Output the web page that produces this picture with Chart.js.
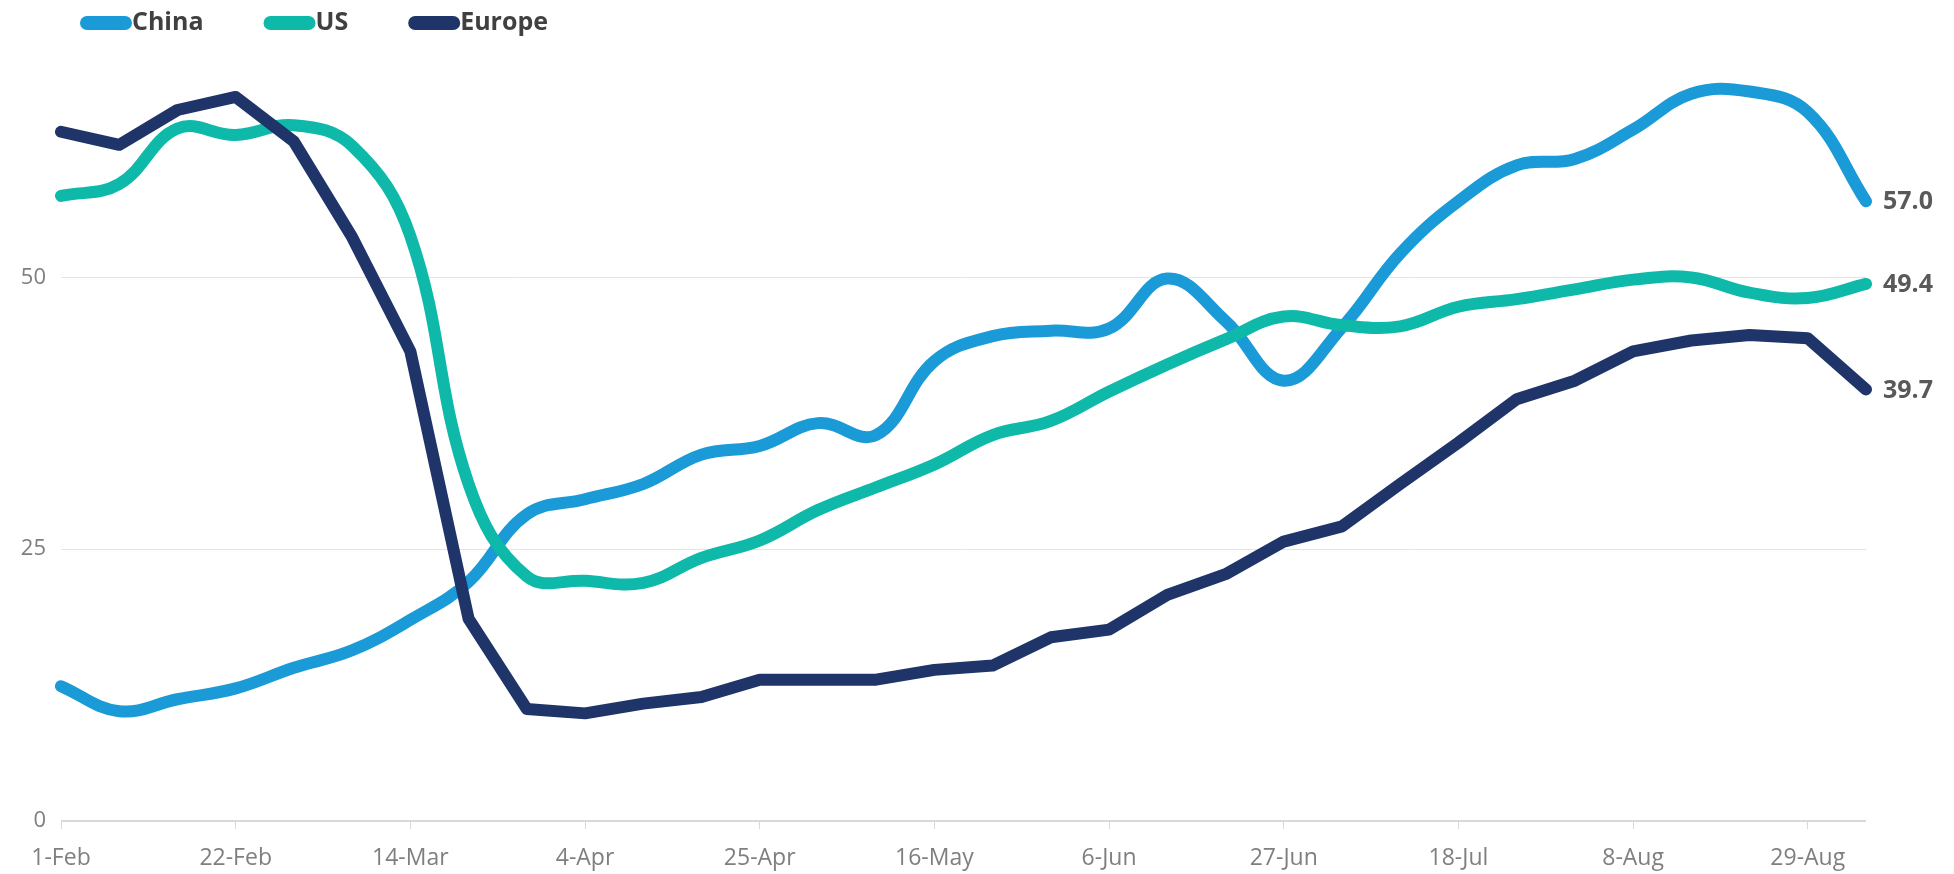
<!DOCTYPE html>
<html>
<head>
<meta charset="utf-8">
<script src="https://cdn.jsdelivr.net/npm/chart.js@4"></script>
<style>
  html, body { margin: 0; padding: 0; background: #fff; }
  #wrap { width: 1954px; height: 874px; position: relative; }
</style>
</head>
<body>
<div id="wrap"><canvas id="chart"></canvas></div>
<script>
// weekly readings, 1-Feb to 5-Sep
const weeks = ['1-Feb', '8-Feb', '15-Feb', '22-Feb', '29-Feb', '7-Mar', '14-Mar', '21-Mar', '28-Mar',
    '4-Apr', '11-Apr', '18-Apr', '25-Apr', '2-May', '9-May', '16-May', '23-May', '30-May',
    '6-Jun', '13-Jun', '20-Jun', '27-Jun', '4-Jul', '11-Jul', '18-Jul', '25-Jul', '1-Aug',
    '8-Aug', '15-Aug', '22-Aug', '29-Aug', '5-Sep'];

const china = [12.4, 10.1, 11.2, 12.2, 14.1, 15.7, 18.5, 22.0, 28.2, 29.6, 31.0, 33.7, 34.5, 36.6, 35.5, 42.3,
    44.6, 45.1, 45.3, 49.9, 46.0, 40.5, 45.4, 52.2, 57.0, 60.3, 60.9, 63.6, 66.9, 67.1, 65.2, 57.0];
const us = [57.5, 58.6, 63.7, 63.1, 64.0, 62.1, 53.8, 31.0, 22.5, 22.1, 21.9, 24.2, 25.8, 28.6, 30.7, 32.8,
    35.5, 36.8, 39.5, 42.0, 44.3, 46.4, 45.6, 45.5, 47.3, 48.0, 48.9, 49.8, 50.0, 48.6, 48.1, 49.4];
const europe = [63.4, 62.2, 65.4, 66.6, 62.5, 53.7, 43.2, 18.6, 10.3, 9.9, 10.8, 11.4, 13.0, 13.0, 13.0, 13.9,
    14.3, 16.9, 17.6, 20.8, 22.7, 25.7, 27.1, 31.0, 34.8, 38.8, 40.5, 43.2, 44.2, 44.7, 44.4, 39.7];

const yTicks = [0, 25, 50];

const colors = {
    China: '#1a9bd7',
    US: '#0fb9a9',
    Europe: '#1f3569'
};

function series(name, values, tension, order) {
    return {
        label: name,
        data: values,
        borderColor: colors[name],
        backgroundColor: colors[name],
        borderWidth: 12,
        borderCapStyle: 'round',
        borderJoinStyle: 'round',
        pointRadius: 0,
        tension: tension,
        order: order
    };
}

// legend drawn by hand: pill swatch then bold name
const legendPlugin = {
    id: 'pillLegend',
    afterDraw(chart) {
        const ctx = chart.ctx;
        let x = 80;
        const y = 23;
        ctx.save();
        ctx.font = 'bold 25px "Open Sans"';
        ctx.textBaseline = 'middle';
        chart.data.datasets.forEach(ds => {
            ctx.fillStyle = ds.borderColor;
            ctx.beginPath();
            ctx.roundRect(x, y - 7, 52, 14, 7);
            ctx.fill();
            ctx.fillStyle = '#404040';
            ctx.fillText(ds.label, x + 52, y);
            x += 52 + ctx.measureText(ds.label).width + 60;
        });
        ctx.restore();
    }
};

// value at the last point of each line
const endLabels = {
    id: 'endLabels',
    afterDatasetsDraw(chart) {
        const ctx = chart.ctx;
        ctx.save();
        ctx.font = 'bold 25px "Open Sans"';
        ctx.fillStyle = '#595959';
        ctx.textBaseline = 'middle';
        chart.data.datasets.forEach((ds, i) => {
            const pts = chart.getDatasetMeta(i).data;
            const last = pts[pts.length - 1];
            ctx.fillText(ds.data[ds.data.length - 1].toFixed(1), last.x + 17, last.y + 1);
        });
        ctx.restore();
    }
};

new Chart(document.getElementById('chart'), {
    type: 'line',
    data: {
        labels: weeks,
        datasets: [
            series('China', china, 0.4, 3),
            series('US', us, 0.4, 2),
            series('Europe', europe, 0, 1)
        ]
    },
    options: {
        responsive: true,
        maintainAspectRatio: false,
        animation: false,
        layout: { padding: { left: 10, right: 88, top: 60, bottom: 0 } },
        plugins: {
            legend: { display: false },
            tooltip: { enabled: false }
        },
        scales: {
            x: {
                border: { display: false },
                afterFit: axis => { axis.height = 53; },
                grid: {
                    drawOnChartArea: false,
                    drawTicks: true,
                    tickLength: 8,
                    color: c => (c.index % 3 === 0 ? '#d9d9d9' : 'rgba(0,0,0,0)')
                },
                ticks: {
                    autoSkip: false,
                    maxRotation: 0,
                    minRotation: 0,
                    padding: 16,
                    color: '#7f7f7f',
                    font: { family: '"Open Sans"', size: 23 },
                    callback: (v, i) => (i % 3 === 0 ? weeks[i] : '')
                }
            },
            y: {
                min: 0,
                max: 70,
                border: { display: false },
                afterBuildTicks: axis => { axis.ticks = yTicks.map(v => ({ value: v })); },
                afterFit: axis => { axis.width = 51; },
                grid: {
                    drawTicks: false,
                    color: c => (c.tick.value === 0 ? '#d9d9d9' : '#e4e4e4'),
                    lineWidth: c => (c.tick.value === 0 ? 2 : 1)
                },
                ticks: {
                    padding: 15,
                    color: '#7f7f7f',
                    font: { family: '"Open Sans"', size: 22 }
                }
            }
        }
    },
    plugins: [legendPlugin, endLabels]
});
</script>
</body>
</html>
